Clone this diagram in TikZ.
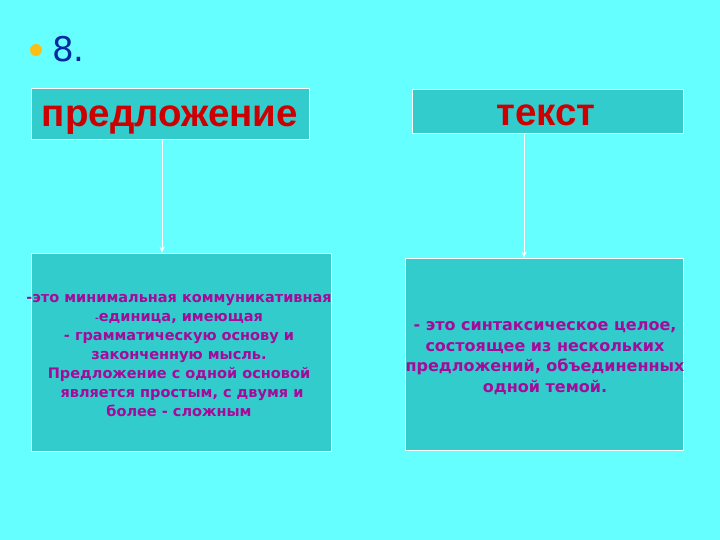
\documentclass[tikz,border=0pt]{standalone}
\usepackage{fontspec}
\setmainfont{DejaVu Sans}
\newfontfamily\headfont{Liberation Sans}
\usetikzlibrary{arrows.meta}
\definecolor{bgcyan}{RGB}{102,255,255}
\definecolor{boxfill}{RGB}{51,204,204}
\definecolor{headred}{RGB}{204,0,0}
\definecolor{bodymag}{RGB}{165,10,155}
\definecolor{numblue}{RGB}{0,40,160}
\definecolor{bulletyel}{RGB}{250,190,20}
\tikzset{
  panel/.style={draw=white, line width=0.8pt, fill=boxfill, rectangle, inner sep=0pt},
  headtext/.style={font=\headfont\bfseries\fontsize{38.5}{44}\selectfont, text=headred, anchor=base, inner sep=0pt},
  bodytext/.style={font=\bfseries\fontsize{14.5}{19}\selectfont, text=bodymag, align=center},
  bodytextb/.style={font=\bfseries\fontsize{16}{20.5}\selectfont, text=bodymag, align=center},
  conn/.style={draw=white, line width=0.8pt, -{Stealth[length=6pt,width=5pt]}}
}
\begin{document}
\begin{tikzpicture}[x=1pt,y=-1pt]
\useasboundingbox[fill=bgcyan] (0,0) rectangle (720,540);
% bullet and number
\node[circle, fill=bulletyel, minimum size=12pt, inner sep=0pt] (bul) at (36,50) {};
\node[anchor=base west, inner sep=0pt, text=numblue, font=\fontsize{34}{38}\selectfont] (num) at (52,62) {8.};
% header boxes
\node[panel, minimum width=278pt, minimum height=51pt] (h1) at (170,113.5) {};
\node[headtext] (h1t) at (170,127) {предложение};
\node[panel, minimum width=271pt, minimum height=44pt] (h2) at (547.5,111) {};
\node[headtext] (h2t) at (546,126) {текст};
% body boxes
\node[panel, minimum width=300pt, minimum height=198pt] (b1) at (181,352) {};
\node[bodytext] (b1t) at (179,356) {-это минимальная коммуникативная\\
{\fontsize{9}{19}\selectfont -}единица, имеющая\\
- грамматическую основу и\\
законченную мысль.\\
Предложение с одной основой\\
\hspace*{6pt}является простым, с двумя и\\
более - сложным};
\node[panel, minimum width=278pt, minimum height=192pt] (b2) at (544,354) {};
\node[bodytextb] (b2t) at (545,358) {- это синтаксическое целое,\\
состоящее из нескольких\\
предложений, объединенных\\
одной темой.};
% connectors
\draw[conn] (h1.south -| 162,0) -- (b1.north -| 162,0);
\draw[conn] (h2.south -| 524,0) -- (b2.north -| 524,0);
\end{tikzpicture}
\end{document}
